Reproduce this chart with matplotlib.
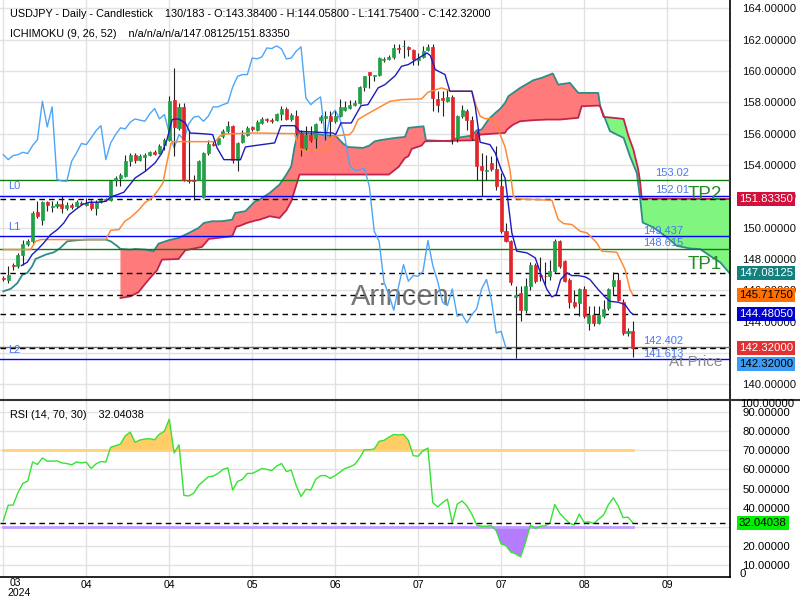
import matplotlib
matplotlib.use('Agg')
import matplotlib.pyplot as plt
from matplotlib.lines import Line2D
import matplotlib.transforms as mtransforms

plt.rcParams['font.family'] = ['Liberation Sans', 'DejaVu Sans']

# ---- candles (bar index 0..129)
opens = [146.79, 146.68, 147.60, 147.54, 148.24, 148.98, 149.13, 150.98, 150.51, 151.64,
         151.34, 151.36, 151.51, 151.26, 151.43, 151.36, 151.56, 151.47, 151.58, 151.26,
         151.62, 151.83, 151.79, 153.03, 153.20, 153.28, 154.24, 154.66, 154.34, 154.51,
         154.66, 154.81, 154.77, 155.26, 155.62, 158.17, 156.37, 157.71, 153.07, 153.07,
         153.07, 151.98, 154.77, 155.37, 155.37, 155.83, 156.19, 156.51, 154.34, 155.45,
         155.94, 156.41, 156.26, 156.68, 156.94, 156.90, 156.86, 157.26, 157.60, 156.94,
         157.15, 156.04, 155.09, 155.94, 155.73, 156.86, 157.00, 157.11, 156.79, 157.11,
         157.54, 157.64, 157.83, 157.96, 158.96, 159.92, 159.66, 159.77, 160.68, 160.77,
         160.90, 161.47, 161.58, 161.54, 161.37, 160.68, 160.90, 161.32, 161.54, 158.22,
         158.28, 158.07, 158.34, 155.73, 157.11, 157.43, 156.90, 156.04, 153.92, 153.64,
         154.13, 153.77, 152.64, 149.77, 149.13, 145.58, 145.84, 144.73, 146.26, 147.64,
         146.96, 146.94, 146.90, 147.22, 149.18, 147.90, 146.65, 145.24, 145.20, 146.09,
         143.92, 144.45, 143.92, 144.39, 144.88, 146.30, 146.69, 145.24, 143.30, 143.384]
highs = [146.90, 147.54, 147.75, 148.39, 149.24, 149.28, 151.05, 151.68, 151.68, 151.73,
         151.68, 151.68, 152.00, 151.62, 151.58, 151.75, 151.68, 151.90, 151.79, 151.79,
         151.90, 151.90, 153.07, 153.32, 153.49, 154.66, 154.77, 154.77, 154.73, 154.77,
         154.88, 154.94, 155.37, 155.73, 158.39, 160.20, 157.96, 157.96, 156.26, 153.39,
         154.30, 154.85, 155.62, 155.52, 155.79, 156.30, 156.79, 156.55, 155.45, 156.26,
         156.51, 156.47, 156.90, 157.07, 157.00, 156.98, 157.32, 157.75, 157.71, 157.32,
         157.49, 156.26, 156.47, 156.47, 156.68, 157.22, 157.43, 157.43, 157.43, 158.24,
         158.07, 158.17, 158.17, 159.02, 159.71, 159.95, 159.77, 160.90, 160.90, 161.05,
         161.75, 161.75, 162.00, 161.62, 161.41, 161.15, 161.58, 161.75, 161.75, 158.71,
         158.71, 158.85, 158.49, 157.22, 157.85, 157.58, 157.11, 156.15, 154.77, 154.66,
         154.56, 155.20, 153.49, 150.30, 149.20, 146.26, 146.26, 146.79, 147.79, 147.75,
         148.13, 147.79, 147.96, 149.28, 149.24, 147.96, 146.79, 146.05, 146.16, 146.26,
         144.99, 144.99, 144.99, 145.41, 146.16, 147.16, 147.11, 145.45, 143.60, 144.058]
lows = [146.58, 146.47, 147.32, 147.43, 147.64, 148.81, 149.02, 150.62, 150.20, 151.05,
        150.98, 151.26, 150.94, 151.15, 151.19, 151.32, 151.45, 151.36, 151.15, 150.83,
        151.58, 151.68, 151.68, 152.64, 152.64, 153.24, 153.92, 154.13, 154.24, 153.60,
        154.56, 154.66, 154.73, 154.98, 155.51, 154.56, 156.26, 152.96, 152.85, 151.79,
        153.03, 151.90, 154.66, 155.20, 155.30, 155.73, 156.04, 154.13, 153.60, 155.41,
        155.83, 156.15, 156.15, 156.64, 156.73, 156.68, 156.79, 156.90, 156.90, 156.79,
        155.94, 154.56, 154.98, 155.45, 155.09, 156.68, 155.62, 155.73, 156.68, 157.07,
        157.43, 157.58, 157.79, 157.92, 158.71, 158.92, 159.34, 159.71, 160.56, 160.73,
        160.77, 161.15, 160.83, 160.94, 160.41, 160.41, 160.83, 161.26, 157.43, 157.37,
        157.11, 158.00, 155.37, 155.45, 157.00, 156.26, 155.62, 153.07, 152.00, 153.07,
        153.60, 152.43, 149.66, 149.07, 146.37, 141.68, 144.03, 144.56, 146.05, 146.47,
        146.58, 146.26, 146.69, 147.11, 147.43, 146.52, 144.88, 144.88, 144.35, 144.24,
        143.45, 143.71, 143.82, 144.24, 144.77, 145.73, 145.30, 143.18, 143.10, 141.754]
closes = [146.75, 147.00, 147.55, 148.28, 148.98, 149.13, 150.94, 150.73, 151.64, 151.43,
          151.38, 151.51, 151.26, 151.47, 151.32, 151.62, 151.52, 151.58, 151.26, 151.62,
          151.79, 151.75, 153.00, 153.17, 153.34, 154.24, 154.66, 154.34, 154.60, 154.66,
          154.81, 154.73, 155.24, 155.62, 158.07, 156.43, 157.71, 153.07, 152.98, 152.96,
          154.24, 154.77, 155.37, 155.30, 155.73, 156.19, 156.51, 154.34, 155.41, 155.94,
          156.37, 156.30, 156.73, 156.94, 156.86, 156.79, 157.26, 157.60, 156.94, 157.22,
          156.04, 155.09, 155.94, 155.62, 156.64, 157.05, 157.11, 156.79, 157.11, 157.71,
          157.71, 157.85, 157.96, 158.98, 159.66, 159.77, 159.77, 160.83, 160.77, 160.90,
          161.47, 161.43, 161.60, 161.41, 160.77, 160.83, 161.26, 161.54, 158.28, 157.85,
          158.13, 158.34, 155.66, 157.11, 157.49, 156.90, 155.73, 153.92, 153.66, 153.70,
          153.77, 152.64, 149.77, 149.13, 146.52, 145.73, 144.73, 146.26, 147.64, 146.58,
          146.94, 146.90, 147.22, 149.18, 147.58, 146.58, 145.24, 145.03, 146.09, 144.35,
          144.45, 143.92, 144.45, 144.82, 146.09, 146.69, 145.41, 143.28, 143.38, 142.32]

# ---- ichimoku lines, (bar, price)
tenkan_x = [3.7, 4.9, 5.9, 7.0, 8.3, 9.7, 11.1, 12.4, 13.5, 14.8, 16.2, 17.6, 19.3, 21.0, 22.0,
            23.4, 24.7, 25.4, 26.1, 27.0, 29.1, 31.1, 32.5, 33.5, 34.6, 35.9, 37.3, 38.3, 40.7,
            42.9, 43.8, 45.2, 48.6, 49.6, 51.6, 55.6, 56.9, 59.7, 60.7, 67.5, 68.1, 69.2, 71.3,
            73.3, 74.7, 76.8, 78.2, 80.3, 81.6, 83.0, 85.7, 86.8, 87.5, 88.5, 90.5, 91.5, 96.0,
            96.7, 97.7, 99.7, 100.8, 102.0, 102.8, 103.2, 104.2, 105.2, 107.3, 109.0, 110.3,
            111.4, 112.4, 113.3, 114.2, 115.5, 116.5, 117.8, 119.2, 120.2, 121.9, 123.3, 124.3,
            126.0, 127.4, 128.5, 129.0]
tenkan_y = [147.58, 147.79, 148.28, 148.60, 149.03, 149.56, 149.88, 150.30, 150.83, 151.15,
            151.47, 151.62, 151.62, 151.68, 151.96, 152.11, 152.26, 152.54, 152.81, 153.17,
            153.60, 154.13, 154.77, 155.58, 156.90, 156.94, 156.68, 156.04, 156.00, 155.94,
            155.09, 154.34, 154.34, 155.15, 155.24, 155.41, 156.51, 156.51, 156.15, 156.04,
            155.94, 156.68, 156.68, 157.79, 157.85, 158.92, 159.13, 159.70, 160.30, 160.41,
            160.94, 161.15, 160.98, 160.09, 159.77, 158.71, 158.71, 157.75, 155.45, 155.30,
            154.77, 153.71, 153.17, 152.22, 149.67, 148.50, 148.39, 148.07, 146.90, 146.05,
            145.58, 145.73, 146.69, 147.11, 146.94, 146.94, 146.86, 146.69, 146.05, 145.58,
            145.30, 145.24, 145.09, 144.60, 144.48]
kijun_x = [0, 5.6, 6.6, 7.7, 21.0, 22.0, 23.7, 24.9, 26.1, 27.7, 29.1, 30.5, 31.8, 32.7, 33.5,
           34.4, 34.9, 43.4, 44.5, 45.5, 51.6, 59.7, 60.6, 61.7, 65.1, 66.5, 67.2, 70.9, 71.6,
           72.7, 74.0, 76.8, 77.2, 79.3, 81.6, 85.7, 87.0, 89.8, 91.2, 91.5, 96.0, 96.8, 97.7,
           98.7, 100.2, 101.1, 101.8, 102.8, 103.8, 104.5, 105.2, 112.4, 113.7, 114.8, 116.5,
           118.2, 119.6, 121.6, 122.6, 125.7, 127.4, 128.4, 129.0]
kijun_y = [148.60, 148.60, 149.13, 149.24, 149.24, 149.83, 149.88, 150.41, 150.66, 151.11,
           151.62, 151.90, 152.43, 152.85, 154.13, 155.41, 155.49, 155.49, 155.88, 155.98,
           156.04, 156.00, 155.09, 154.88, 154.88, 154.98, 155.83, 155.94, 156.15, 156.90,
           157.15, 157.64, 157.71, 158.07, 158.17, 158.22, 158.64, 158.92, 158.77, 158.71,
           158.71, 157.85, 157.11, 156.96, 156.96, 156.58, 155.94, 155.16, 153.71, 152.01,
           151.84, 151.75, 150.52, 150.26, 150.20, 149.77, 149.67, 149.03, 148.50, 148.43,
           147.33, 146.05, 145.72]
span_a_x = [0, 1.5, 2.9, 3.9, 4.9, 5.9, 6.6, 8.7, 10.4, 11.7, 13.1, 15.2, 17.2, 21.0, 22.0,
            23.4, 24.0, 26.1, 27.0, 29.1, 30.8, 31.8, 33.9, 35.9, 38.0, 40.0, 41.1, 42.8, 44.8,
            46.9, 47.5, 49.6, 50.6, 51.6, 52.5, 54.6, 56.6, 58.0, 59.0, 59.7, 60.4, 64.1, 68.2,
            69.6, 70.6, 73.7, 75.0, 76.1, 77.1, 80.3, 82.3, 83.0, 86.1, 86.6, 91.9, 92.9, 96.0,
            97.0, 98.0, 99.4, 100.8, 101.8, 102.8, 103.5, 105.9, 108.6, 110.3, 112.6, 113.7,
            116.1, 117.8, 121.9, 122.3, 124.3, 127.1, 128.4, 129.8, 130.5, 131.0, 133.2, 136.0,
            138.0, 140.7, 142.8, 144.8, 146.9, 149.0]
span_a_y = [145.94, 146.09, 146.47, 147.00, 147.11, 147.54, 148.00, 148.28, 148.43, 148.71,
            149.13, 149.20, 149.24, 149.24, 149.13, 148.81, 148.64, 148.60, 148.64, 148.60,
            148.49, 148.98, 149.20, 149.34, 149.66, 149.98, 150.30, 150.41, 150.41, 150.51,
            150.94, 151.05, 151.37, 151.68, 151.79, 152.22, 152.75, 153.39, 153.92, 155.20,
            156.05, 155.98, 155.83, 155.37, 155.15, 155.09, 155.24, 155.51, 155.58, 155.73,
            155.79, 156.37, 156.47, 155.58, 155.51, 155.73, 155.88, 156.22, 156.26, 156.90,
            157.32, 157.58, 157.96, 158.39, 158.92, 159.41, 159.56, 159.84, 159.13, 159.24,
            158.60, 158.60, 157.75, 156.16, 155.73, 154.56, 153.50, 151.82, 150.33, 150.01,
            149.37, 148.84, 148.67, 148.63, 148.20, 147.78, 147.03]
span_b_x = [24.0, 26.1, 27.7, 29.1, 30.5, 31.5, 32.5, 35.9, 37.3, 40.7, 42.1, 46.9, 47.7, 48.6,
            49.9, 51.6, 52.5, 54.6, 56.6, 58.0, 59.0, 60.7, 79.0, 81.0, 82.3, 83.0, 83.7, 85.7,
            86.4, 96.7, 97.7, 102.8, 103.2, 104.5, 105.9, 108.6, 111.4, 114.1, 117.8, 118.5,
            121.9, 122.3, 123.0, 125.0, 127.1, 128.1, 129.1, 130.1, 130.5, 130.8, 149.0]
span_b_y = [145.51, 145.62, 145.88, 146.43, 146.94, 147.28, 147.96, 148.00, 148.56, 148.77,
            149.28, 149.45, 150.05, 150.13, 150.30, 150.45, 150.51, 150.73, 150.62, 151.11,
            151.68, 153.39, 153.39, 153.88, 154.45, 154.56, 155.03, 155.24, 155.51, 155.58,
            155.94, 156.05, 156.26, 156.58, 156.79, 156.86, 156.90, 156.90, 157.01, 157.75,
            157.79, 157.75, 157.07, 157.01, 156.94, 155.84, 154.99, 153.71, 152.88, 151.86,
            151.83]
cross_bar = 122.3  # where the two spans meet

# ---- RSI(14), one value per bar
rsi = [33.1, 41.3, 41.3, 47.8, 52.7, 53.9, 63.9, 62.6, 66.0, 64.3,
       64.3, 64.5, 63.4, 63.1, 62.4, 63.9, 63.4, 63.8, 60.5, 62.9,
       64.1, 63.9, 71.6, 72.4, 73.3, 77.6, 79.5, 74.2, 75.4, 75.9,
       76.1, 75.5, 78.5, 79.9, 86.3, 68.6, 72.9, 46.4, 46.1, 47.5,
       51.6, 53.9, 56.1, 56.5, 57.9, 60.0, 60.8, 49.2, 53.7, 54.8,
       57.9, 57.9, 59.1, 60.5, 60.0, 59.4, 61.7, 63.1, 58.9, 59.6,
       51.6, 45.8, 49.6, 49.2, 54.8, 56.7, 56.8, 55.3, 56.8, 58.6,
       60.5, 61.3, 62.6, 66.0, 70.3, 70.3, 70.7, 74.7, 75.2, 76.9,
       78.3, 78.0, 78.3, 75.2, 67.2, 66.9, 69.8, 71.2, 42.6, 40.4,
       42.6, 44.4, 31.9, 41.8, 43.5, 40.9, 36.6, 30.9, 30.2, 30.3,
       30.5, 27.9, 21.0, 20.1, 16.7, 15.8, 14.2, 21.9, 30.9, 29.1,
       30.2, 30.5, 31.9, 41.6, 37.1, 34.3, 31.9, 30.9, 36.6, 32.3,
       32.6, 31.7, 34.0, 36.2, 41.6, 45.1, 40.9, 34.8, 35.0, 32.04038]

tick_bars = [0, 17, 34, 51, 68, 85, 102, 119, 136]
tick_labels = ['03', '04', '04', '05', '06', '07', '07', '08', '09']
price_ticks = [140, 144, 146, 148, 150, 152, 154, 156, 158, 160, 162, 164]
rsi_ticks = [10, 20, 40, 50, 60, 70, 80, 90]

# horizontal levels: (price, color, style)
levels = [(153.02, '#137a13', '-'), (152.01, '#0000ff', '-'), (151.8335, 'k', 'dash'),
          (149.437, '#0000ff', '-'), (148.615, '#137a13', '-'),
          (147.08125, 'k', 'dash'), (145.7175, 'k', 'dash'), (144.4805, 'k', 'dash'),
          (142.402, '#707070', '-'), (142.32, 'k', 'dash'), (141.613, '#0000ff', '-')]

fig = plt.figure(figsize=(8, 6), dpi=100)
W, H = 800.0, 600.0
ax = fig.add_axes([0, 1 - 400 / H, 730 / W, 400 / H])
ar = fig.add_axes([0, 1 - 577 / H, 730 / W, 176 / H])

n = len(closes)
bars = list(range(n))
xlim = (-0.68, 148.9)
GREEN, RED = '#22a046', '#e3262b'

# cloud
xa_r = [x for x in span_a_x if 24.0 <= x <= cross_bar]
ya_r = [y for x, y in zip(span_a_x, span_a_y) if 24.0 <= x <= cross_bar]
xb_r = [x for x in span_b_x if x <= cross_bar]
yb_r = [y for x, y in zip(span_b_x, span_b_y) if x <= cross_bar]
ax.fill(xa_r + xb_r[::-1], ya_r + yb_r[::-1], color='#ff7b7b', lw=0, zorder=1)
xa_g = [x for x in span_a_x if x >= cross_bar]
ya_g = [y for x, y in zip(span_a_x, span_a_y) if x >= cross_bar]
xb_g = [x for x in span_b_x if x >= cross_bar]
yb_g = [y for x, y in zip(span_b_x, span_b_y) if x >= cross_bar]
ax.fill(xa_g + xb_g[::-1], ya_g + yb_g[::-1], color='#80f580', lw=0, zorder=1)
ax.plot(span_a_x, span_a_y, color='#2f8c88', lw=1.3, zorder=2)
ax.plot(span_b_x, span_b_y, color='#c4234c', lw=1.3, zorder=2)

for p, c, s in levels:
    ls = (0, (4, 3)) if s == 'dash' else '-'
    ax.axhline(p, color=c, lw=1.0, ls=ls, zorder=3)

# chikou (close shifted back 26 bars)
ax.plot(bars[:n - 26], closes[26:], color='#4ea5f7', lw=1.0, zorder=4)

# candles
for i in bars:
    o, h, l, c = opens[i], highs[i], lows[i], closes[i]
    col = GREEN if c >= o else RED
    ax.vlines(i, l, h, color='#222222', lw=0.8, zorder=5)
    ax.bar(i, c - o, bottom=o, width=0.62, color=col, edgecolor=col, lw=0.5, zorder=6)

ax.plot(kijun_x, kijun_y, color='#ff8a35', lw=1.1, zorder=7)
ax.plot(tenkan_x, tenkan_y, color='#1c1cbe', lw=1.0, zorder=7)

ax.set_xlim(*xlim)
ax.set_ylim(139.0, 164.53)
ax.set_xticks(tick_bars)
ax.set_xticklabels([])
ax.set_yticks(range(140, 165, 2))
ax.set_yticklabels([f'{v:.5f}' if v in price_ticks else '' for v in range(140, 165, 2)])
ax.yaxis.tick_right()
ax.tick_params(axis='both', length=0, labelsize=8.2, pad=9)
ax.tick_params(axis='y', colors='#111111')
ax.grid(True, color='#e2e2e2', lw=1.0, zorder=0)
ax.set_axisbelow(True)
for s in ['top', 'left', 'bottom']:
    ax.spines[s].set_visible(False)
ax.spines['right'].set_color('k')
ax.spines['right'].set_linewidth(1.2)

blue_txt = '#4b78ee'
for b, p, t in [(133.5, 153.49, '153.02'), (133.5, 152.40, '152.01'),
                (131.1, 149.79, '149.437'), (131.1, 149.02, '148.615'),
                (131.1, 142.77, '142.402'), (131.1, 141.94, '141.613')]:
    ax.text(b, p, t, color=blue_txt, fontsize=8, va='center', ha='left', zorder=8)
for p, t in [(152.66, 'L0'), (150.04, 'L1'), (142.2, 'L2')]:
    ax.text(1.0, p, t, color=blue_txt, fontsize=8, va='center', ha='left', zorder=8)
ax.text(147.3, 152.09, 'TP2', color='#228b22', fontsize=13.5, ha='right', va='center', zorder=8)
ax.text(147.3, 147.62, 'TP1', color='#228b22', fontsize=13.5, ha='right', va='center', zorder=8)
ax.text(147.3, 141.44, 'At Price', color='#8a8a8a', fontsize=11, ha='right', va='center', zorder=8)
ax.text(81.3, 145.55, 'Arincen', color='#666666', fontsize=21, ha='center', va='center',
        alpha=0.9, zorder=3)

trans = mtransforms.blended_transform_factory(ax.transAxes, ax.transData)
for p, t, fc, tc in [(151.8335, '151.83350', '#d3103c', 'white'),
                     (147.08125, '147.08125', '#158080', 'white'),
                     (145.7175, '145.71750', '#ff7000', 'black'),
                     (144.4805, '144.48050', '#0000cc', 'white'),
                     (142.32, '142.32000', '#e03232', 'white'),
                     (141.30, '142.32000', '#3a9cf5', 'black')]:
    ax.text(739 / 730, p, t, transform=trans, fontsize=8.2, color=tc, va='center', ha='left',
            clip_on=False, zorder=10,
            bbox=dict(boxstyle='square,pad=0.18', fc=fc, ec='none'))

# ---- RSI panel
ar.plot(bars, rsi, color='#36e236', lw=1.0, zorder=4)
ar.plot([0, n - 1], [70, 70], color='#ffd27a', lw=2.0, zorder=3)
ar.plot([0, n - 1], [30, 30], color='#c29cff', lw=2.0, zorder=3)
ar.fill_between(bars, rsi, 70, where=[v > 70 for v in rsi], interpolate=True,
                color='#ffcc66', lw=0, zorder=2)
ar.fill_between(bars, rsi, 30, where=[v < 30 for v in rsi], interpolate=True,
                color='#b57cff', lw=0, zorder=2)
ar.axhline(rsi[-1], color='k', lw=1.0, ls=(0, (4, 3)), zorder=5)
ar.set_xlim(*xlim)
ar.set_ylim(3.7, 95.8)
ar.set_yticks(range(10, 100, 10))
ar.set_yticklabels([f'{v:.5f}' if v in rsi_ticks else '' for v in range(10, 100, 10)])
ar.yaxis.tick_right()
ar.set_xticks(tick_bars)
ar.set_xticklabels([''] + tick_labels[1:], family=['Liberation Sans Narrow', 'Liberation Sans'])
ar.tick_params(axis='y', length=0, labelsize=8.2, pad=9)
ar.tick_params(axis='x', length=0, labelsize=7.5, pad=2)
ar.grid(True, color='#e2e2e2', lw=1.0, zorder=0)
ar.set_axisbelow(True)
for s in ['top', 'left']:
    ar.spines[s].set_visible(False)
for s in ['right', 'bottom']:
    ar.spines[s].set_color('k')
    ar.spines[s].set_linewidth(1.2)
ar.text(739 / 730, rsi[-1], f'{rsi[-1]:.5f}', transform=mtransforms.blended_transform_factory(
    ar.transAxes, ar.transData), fontsize=8.2, color='black', va='center', ha='left',
    clip_on=False, zorder=10, bbox=dict(boxstyle='square,pad=0.18', fc='#00f000', ec='none'))

# texts outside axes
narrow = ['Liberation Sans Narrow', 'Liberation Sans']
fig.text(10 / W, 1 - 583 / H, '03', fontsize=7.5, family=narrow, va='center', ha='left')
fig.text(7 / W, 1 - 593 / H, '2024', fontsize=7.5, family=narrow, va='center', ha='left')
fig.text(740 / W, 1 - 404 / H, '100.00000', fontsize=8.2, va='center', ha='left')
fig.text(740 / W, 1 - 574 / H, '0', fontsize=8.2, va='center', ha='left')
fig.text(10 / W, 1 - 14 / H,
         'USDJPY - Daily - Candlestick    130/183 - O:143.38400 - H:144.05800 - L:141.75400 - C:142.32000',
         fontsize=7.85, va='center', ha='left')
fig.text(10 / W, 1 - 34 / H, 'ICHIMOKU (9, 26, 52)    n/a/n/a/n/a/147.08125/151.83350',
         fontsize=7.85, va='center', ha='left')
fig.text(10 / W, 1 - 415 / H, 'RSI (14, 70, 30)    32.04038', fontsize=7.85, va='center', ha='left')
fig.add_artist(Line2D([0, 1], [1 - 400 / H] * 2, color='#333333', lw=1.5))

fig.savefig('out.png', dpi=100)
